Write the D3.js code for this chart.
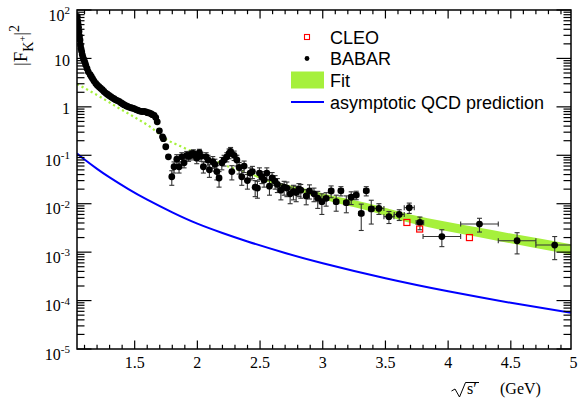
<!DOCTYPE html>
<html lang="en">
<head>
<meta charset="UTF-8">
<title>Kaon form factor</title>
<style>
  body { margin: 0; background: #fff; }
  svg { display: block; }
  .tick-label { font-family: "Liberation Serif", "Times New Roman", serif; font-size: 16px; }
  .legend text { font-family: "Liberation Sans", Arial, sans-serif; font-size: 18px; }
</style>
</head>
<body>
<svg width="579" height="402"></svg>
<script src="https://d3js.org/d3.v7.min.js"></script>
<script>
// BABAR points: sqrt(s'), |F|^2, y error, x half-width
var babarX = [1.042, 1.045, 1.048, 1.052, 1.056, 1.060, 1.064, 1.068, 1.072, 1.077, 1.082, 1.088, 1.096, 1.103, 1.110,
  1.120, 1.130, 1.145, 1.155, 1.165, 1.176, 1.190, 1.202, 1.215, 1.228, 1.242, 1.255, 1.269, 1.282, 1.295,
  1.310, 1.322, 1.335, 1.348, 1.362, 1.375, 1.390, 1.402, 1.415, 1.430, 1.442, 1.455, 1.470, 1.482, 1.495,
  1.510, 1.522, 1.535, 1.550, 1.562, 1.575, 1.590, 1.602, 1.615, 1.630, 1.642, 1.655, 1.668, 1.680,
  1.697, 1.722, 1.729, 1.748, 1.769, 1.796, 1.814, 1.836, 1.854, 1.876, 1.894, 1.915, 1.930, 1.942, 1.955,
  1.968, 1.982, 1.995, 2.016, 2.030, 2.048, 2.070, 2.085, 2.096, 2.123, 2.140, 2.155, 2.173, 2.195, 2.213,
  2.235, 2.253, 2.265, 2.275, 2.293, 2.315, 2.333, 2.354, 2.373, 2.399, 2.421, 2.439, 2.461, 2.479, 2.495,
  2.514, 2.532, 2.554, 2.575, 2.596, 2.620, 2.638, 2.666, 2.692, 2.714, 2.740, 2.766, 2.788, 2.810, 2.825,
  2.868, 2.894, 2.930, 2.960,
  2.993, 3.027, 3.067, 3.107, 3.145, 3.188, 3.227, 3.267, 3.307, 3.347, 3.387,
  3.448, 3.528, 3.610, 3.690, 3.775, 3.950, 4.250, 4.550, 4.850];
var babarY = [74, 60, 52, 44, 36, 29, 24, 19, 16, 14, 12, 10.5, 9.3, 8.3, 7.3,
  6.2, 5.3, 4.6, 4.2, 3.8, 3.4, 3.05, 2.8, 2.6, 2.42, 2.26, 2.08, 1.93, 1.82, 1.72,
  1.62, 1.54, 1.47, 1.40, 1.35, 1.30, 1.22, 1.16, 1.11, 1.06, 1.02, 0.99, 0.96, 0.94, 0.92,
  0.88, 0.86, 0.83, 0.81, 0.80, 0.81, 0.79, 0.76, 0.75, 0.72, 0.69, 0.67, 0.60, 0.49,
  0.32, 0.24, 0.22, 0.15, 0.093, 0.036, 0.058, 0.083, 0.058, 0.093, 0.070, 0.100, 0.095, 0.100, 0.105,
  0.110, 0.100, 0.087, 0.113, 0.095, 0.058, 0.093, 0.080, 0.050, 0.074, 0.065, 0.046, 0.034, 0.070, 0.080,
  0.093, 0.110, 0.120, 0.046, 0.100, 0.080, 0.056, 0.036, 0.060, 0.030, 0.043, 0.046, 0.022, 0.021, 0.043,
  0.036, 0.031, 0.043, 0.023, 0.034, 0.029, 0.025, 0.019, 0.022, 0.021, 0.016, 0.018, 0.017, 0.020, 0.019,
  0.0145, 0.0185, 0.016, 0.013,
  0.011, 0.0129, 0.0183, 0.011, 0.0185, 0.0105, 0.0136, 0.0151, 0.0063, 0.0185, 0.0078,
  0.008, 0.0054, 0.006, 0.0083, 0.0041, 0.0021, 0.0038, 0.00172, 0.0014];
var babarErr = [2, 2, 1.5, 1.3, 1, 0.9, 0.7, 0.6, 0.5, 0.4, 0.35, 0.3, 0.28, 0.25, 0.22,
  0.18, 0.16, 0.14, 0.12, 0.11, 0.1, 0.09, 0.08, 0.08, 0.07, 0.07, 0.06, 0.06, 0.05, 0.05,
  0.05, 0.05, 0.04, 0.04, 0.04, 0.04, 0.04, 0.04, 0.03, 0.03, 0.03, 0.03, 0.03, 0.03, 0.03,
  0.03, 0.03, 0.03, 0.03, 0.03, 0.03, 0.03, 0.03, 0.03, 0.03, 0.03, 0.03, 0.03, 0.03,
  0.02, 0.02, 0.02, 0.015, 0.015, 0.012, 0.015, 0.02, 0.015, 0.02, 0.015, 0.02, 0.02, 0.02, 0.02,
  0.02, 0.02, 0.02, 0.02, 0.02, 0.015, 0.02, 0.02, 0.015, 0.02, 0.018, 0.015, 0.012, 0.02, 0.02,
  0.02, 0.025, 0.025, 0.015, 0.022, 0.02, 0.015, 0.012, 0.016, 0.01, 0.012, 0.013, 0.008, 0.008, 0.012,
  0.01, 0.009, 0.012, 0.008, 0.01, 0.009, 0.008, 0.007, 0.007, 0.007, 0.006, 0.006, 0.006, 0.006, 0.006,
  0.005, 0.006, 0.005, 0.005,
  0.005, 0.004, 0.005, 0.004, 0.004, 0.004, 0.004, 0.003, 0.0035, 0.004, 0.004,
  0.002, 0.0015, 0.0015, 0.002, 0.0012, 0.0008, 0.0012, 0.0008, 0.0007];
var babarXErr = [0.02, 0.02, 0.02, 0.02, 0.02, 0.02, 0.02, 0.02, 0.02, 0.02, 0.02,
  0.04, 0.04, 0.04, 0.04, 0.03, 0.15, 0.15, 0.15, 0.15]; // applies to the last 20 points

// CLEO points
var cleoX = [3.671, 3.773, 4.17];
var cleoY = [0.0041, 0.0030, 0.0020];

// fit: extrapolated (dotted) part and fitted band
var fitX = [1.04, 1.223, 1.357, 1.49, 1.622, 1.756, 1.862, 1.915, 2.128, 2.26, 2.394, 2.5];
var fitY = [2.97, 1.62, 1.0, 0.63, 0.39, 0.21, 0.155, 0.134, 0.08, 0.057, 0.044, 0.035];
var bandX = [2.45, 2.634, 2.873, 3.0, 3.35, 3.7, 4.25, 4.98];
var bandY = [0.039, 0.026, 0.018, 0.0144, 0.0088, 0.0050, 0.0026, 0.00118];
var bandRel = [0.05, 0.08, 0.12, 0.14, 0.17, 0.2, 0.22, 0.24];

// asymptotic QCD prediction
var qcdX = [1.04, 1.1, 1.2, 1.3, 1.45, 1.6, 1.8, 2.0, 2.2, 2.4, 2.7, 3.0, 3.5, 4.0, 4.5, 4.98];
var qcdY = [0.109, 0.0818, 0.0524, 0.0349, 0.0200, 0.0121, 0.00662, 0.00387, 0.00248, 0.00166,
  0.00096, 0.000589, 0.000288, 0.000155, 0.0000900, 0.0000562];

// axis labels
var xLabels = [1.5, 2, 2.5, 3, 3.5, 4, 4.5, 5];
var yExponents = [2, 1, 0, -1, -2, -3, -4, -5];
var legendNames = ["CLEO", "BABAR", "Fit", "asymptotic QCD prediction"];

var svg = d3.select("svg");
var frameL = 77, frameR = 571, frameT = 10, frameB = 349;

var x = d3.scaleLinear().domain([1.04, 4.98]).range([frameL, frameR]);
var y = d3.scaleLog().domain([1e-5, 1e2]).range([frameB, frameT]);

svg.append("defs").append("clipPath").attr("id", "plot")
  .append("rect").attr("x", frameL).attr("y", frameT)
  .attr("width", frameR - frameL).attr("height", frameB - frameT);

var plot = svg.append("g").attr("clip-path", "url(#plot)");

// fit band
var band = bandX.map(function (d, i) { return { x: d, lo: bandY[i] * (1 - bandRel[i]), hi: bandY[i] * (1 + bandRel[i]) }; });
plot.append("path")
  .datum(band)
  .attr("fill", "#a6f03c")
  .attr("d", d3.area().curve(d3.curveMonotoneX)
    .x(function (d) { return x(d.x); })
    .y0(function (d) { return y(d.lo); })
    .y1(function (d) { return y(d.hi); }));

// extrapolated fit, dotted
plot.append("path")
  .datum(d3.zip(fitX, fitY))
  .attr("fill", "none")
  .attr("stroke", "#a6f03c")
  .attr("stroke-width", 2.2)
  .attr("stroke-dasharray", "2.2,3")
  .attr("d", d3.line().curve(d3.curveMonotoneX)
    .x(function (d) { return x(d[0]); })
    .y(function (d) { return y(d[1]); }));

// QCD prediction
plot.append("path")
  .datum(d3.zip(qcdX, qcdY))
  .attr("fill", "none")
  .attr("stroke", "#0000ff")
  .attr("stroke-width", 2)
  .attr("d", d3.line().curve(d3.curveNatural)
    .x(function (d) { return x(d[0]); })
    .y(function (d) { return y(d[1]); }));

// BABAR points
var nX = babarX.length - babarXErr.length;
var pts = babarX.map(function (d, i) {
  return { x: d, y: babarY[i], e: babarErr[i], xe: i >= nX ? babarXErr[i - nX] : 0 };
});

var eb = plot.append("g").attr("stroke", "#333").attr("stroke-width", 1.1);
pts.forEach(function (p) {
  var cx = x(p.x), cy = y(p.y);
  var y0 = y(Math.max(p.y - p.e, 1e-6)), y1 = y(p.y + p.e);
  if (y0 - y1 > 7) {
    eb.append("line").attr("x1", cx).attr("x2", cx).attr("y1", y0).attr("y2", y1);
    eb.append("line").attr("x1", cx - 2.5).attr("x2", cx + 2.5).attr("y1", y0).attr("y2", y0);
    eb.append("line").attr("x1", cx - 2.5).attr("x2", cx + 2.5).attr("y1", y1).attr("y2", y1);
  }
  if (p.xe > 0) {
    var x0 = x(p.x - p.xe), x1 = x(p.x + p.xe);
    eb.append("line").attr("x1", x0).attr("x2", x1).attr("y1", cy).attr("y2", cy);
    eb.append("line").attr("x1", x0).attr("x2", x0).attr("y1", cy - 2.5).attr("y2", cy + 2.5);
    eb.append("line").attr("x1", x1).attr("x2", x1).attr("y1", cy - 2.5).attr("y2", cy + 2.5);
  }
});

plot.append("g").selectAll("circle")
  .data(pts).enter().append("circle")
  .attr("cx", function (d) { return x(d.x); })
  .attr("cy", function (d) { return y(d.y); })
  .attr("r", 3.4)
  .attr("fill", "#000");

// CLEO points
plot.append("g").selectAll("rect")
  .data(d3.zip(cleoX, cleoY)).enter().append("rect")
  .attr("x", function (d) { return x(d[0]) - 3; })
  .attr("y", function (d) { return y(d[1]) - 3; })
  .attr("width", 6).attr("height", 6)
  .attr("fill", "none").attr("stroke", "#ff0000").attr("stroke-width", 1.2);

// frame and ticks
var axes = svg.append("g").attr("stroke", "#000").attr("fill", "none");
axes.append("rect").attr("x", frameL).attr("y", frameT)
  .attr("width", frameR - frameL).attr("height", frameB - frameT).attr("stroke-width", 1.5);

x.ticks(40).forEach(function (t) {
  var major = Math.abs(t * 2 - Math.round(t * 2)) < 1e-6;
  var len = major ? 8.5 : 4.2;
  axes.append("line").attr("x1", x(t)).attr("x2", x(t)).attr("y1", frameB).attr("y2", frameB - len).attr("stroke-width", 1.2);
  axes.append("line").attr("x1", x(t)).attr("x2", x(t)).attr("y1", frameT).attr("y2", frameT + len).attr("stroke-width", 1.2);
});

y.ticks().forEach(function (t) {
  var e = Math.log10(t);
  var major = Math.abs(e - Math.round(e)) < 1e-6;
  var len = major ? 14.5 : 7.5;
  axes.append("line").attr("x1", frameL).attr("x2", frameL + len).attr("y1", y(t)).attr("y2", y(t)).attr("stroke-width", 1.2);
  axes.append("line").attr("x1", frameR).attr("x2", frameR - len).attr("y1", y(t)).attr("y2", y(t)).attr("stroke-width", 1.2);
});

// tick labels
svg.append("g").selectAll("text")
  .data(xLabels).enter().append("text")
  .attr("class", "tick-label")
  .attr("x", function (d) { return x(d); })
  .attr("y", 368)
  .attr("text-anchor", "middle")
  .text(function (d) { return d; });

yExponents.forEach(function (e) {
  var t = svg.append("text").attr("class", "tick-label")
    .attr("x", 70).attr("text-anchor", "end");
  if (e === 0) {
    t.attr("y", y(1) + 7.5).text("1");
  } else if (e === 1) {
    t.attr("y", y(10) + 7.5).text("10");
  } else {
    t.attr("y", y(Math.pow(10, e)) + 10.5);
    t.append("tspan").text("10");
    t.append("tspan").attr("dy", -6.5).style("font-size", "11px").text(e < 0 ? "-" + (-e) : e);
  }
});

// axis titles
var xt = svg.append("g").attr("class", "tick-label");
xt.append("path")
  .attr("d", "M451.5,391 L455,389 L459.5,397 L465.5,382.5 L479,382.5")
  .attr("fill", "none").attr("stroke", "#000").attr("stroke-width", 1);
xt.append("text").attr("x", 467).attr("y", 394).text("s\u2032");
xt.append("text").attr("x", 500).attr("y", 394).text("(GeV)");

var yt = svg.append("text").attr("class", "tick-label")
  .attr("transform", "translate(27,66) rotate(-90)");
yt.append("tspan").style("font-size", "19px").text("|F");
yt.append("tspan").attr("dy", 6).style("font-size", "14px").text("K");
yt.append("tspan").attr("dy", -7).style("font-size", "10px").text("+");
yt.append("tspan").attr("dy", 1).style("font-size", "19px").text("|");
yt.append("tspan").attr("dy", -8).style("font-size", "14px").text("2");

// legend
var legend = svg.append("g").attr("class", "legend");
var rowY = [37, 58.5, 80, 102];
legend.append("rect").attr("x", 304.5).attr("y", rowY[0] - 2.5).attr("width", 5).attr("height", 5)
  .attr("fill", "none").attr("stroke", "#ff0000").attr("stroke-width", 1.1);
legend.append("circle").attr("cx", 307).attr("cy", rowY[1]).attr("r", 2.4).attr("fill", "#000");
legend.append("rect").attr("x", 291).attr("y", rowY[2] - 8.5).attr("width", 33).attr("height", 17).attr("fill", "#a6f03c");
legend.append("line").attr("x1", 291).attr("x2", 324).attr("y1", rowY[3]).attr("y2", rowY[3])
  .attr("stroke", "#0000ff").attr("stroke-width", 1.8);
legend.selectAll("text").data(legendNames).enter().append("text")
  .attr("x", 330)
  .attr("y", function (d, i) { return rowY[i] + 6.5; })
  .text(function (d) { return d; });
</script>
</body>
</html>
